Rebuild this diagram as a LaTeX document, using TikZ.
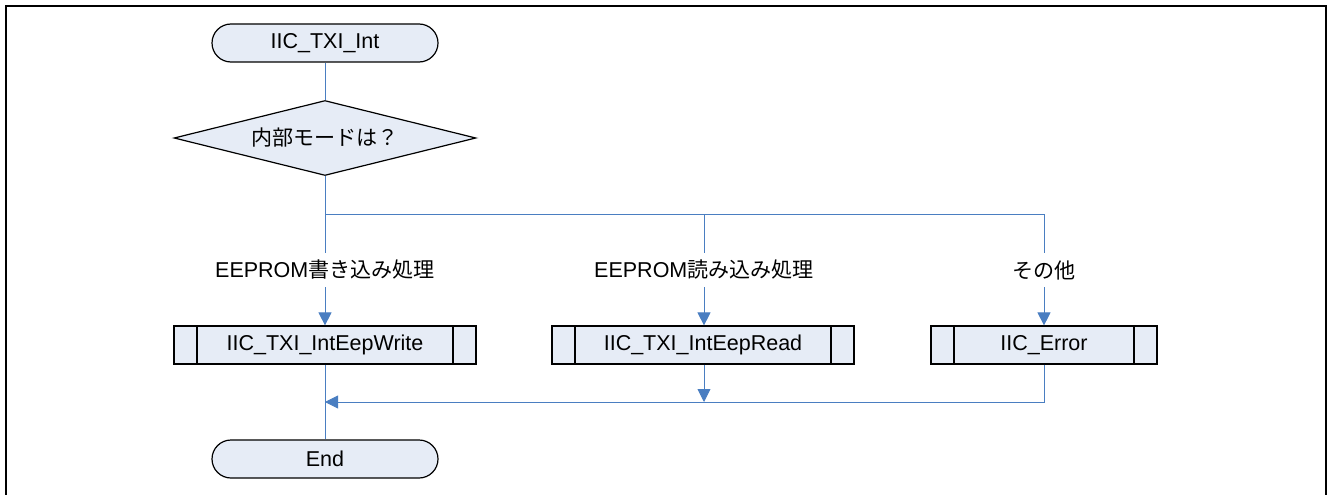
\documentclass[tikz,border=0pt]{standalone}
\usepackage{fontspec}
\setmainfont{Liberation Sans}
\newfontfamily\jp{Noto Sans CJK JP}[Scale=0.98]
\usetikzlibrary{shapes.geometric,arrows.meta}
\definecolor{boxfill}{RGB}{230,236,246}
\definecolor{linkblue}{RGB}{74,126,193}
\tikzset{
  x=1pt, y=-1pt,
  every node/.style={font=\fontsize{21.5}{24}\selectfont, text=black},
  term/.style={draw=black, line width=1.2pt, fill=boxfill, rectangle, rounded corners=19pt,
    minimum width=226pt, minimum height=38pt, inner sep=0pt},
  decide/.style={draw=black, line width=1.2pt, fill=boxfill, diamond, aspect=4.03,
    minimum width=302pt, minimum height=75pt, inner sep=0pt},
  proc/.style={draw=black, line width=1.2pt, fill=boxfill, rectangle,
    minimum height=38pt, inner sep=0pt,
    path picture={
      \draw[line width=1.2pt] ([xshift=23pt]path picture bounding box.north west) -- ([xshift=23pt]path picture bounding box.south west);
      \draw[line width=1.2pt] ([xshift=-23pt]path picture bounding box.north east) -- ([xshift=-23pt]path picture bounding box.south east);
    }},
  lbl/.style={fill=white, inner xsep=2pt, inner ysep=0pt, minimum height=34pt},
  conn/.style={draw=linkblue, line width=0.9pt},
  arr/.style={conn, -{Triangle[width=13pt,length=13pt]}},
}
\begin{document}
\begin{tikzpicture}
\useasboundingbox (0,0) rectangle (1328,495);
\draw[line width=2pt] (5.5,495) -- (5.5,6.5) -- (1325.5,6.5) -- (1325.5,495);

\node[term] (start) at (325,43) {IIC\_TXI\_Int};
\node[decide] (dia) at (325,138) {{\jp 内部モードは？}};
\coordinate (split) at (325,214);

\node[lbl] (lw) at (325,270) {EEPROM{\jp 書き込み処理}};
\node[lbl] (lr) at (704,270) {EEPROM{\jp 読み込み処理}};
\node[lbl] (le) at (1044,270) {{\jp その他}};

\node[proc, minimum width=302pt] (write) at (325,345) {IIC\_TXI\_IntEepWrite};
\node[proc, minimum width=302pt] (read) at (703,345) {IIC\_TXI\_IntEepRead};
\node[proc, minimum width=226pt] (err) at (1044,345) {IIC\_Error};

\coordinate (m) at (325,402);
\coordinate (mr) at (704,402);

\node[term] (end) at (325,459) {End};

\draw[conn] (start.south) -- (dia.north);
\draw[conn] (dia.south) -- (lw.north);
\draw[conn] (split) -| (lr.north);
\draw[conn] (split) -| (le.north);
\draw[arr] (lw.south) -- (write.north);
\draw[arr] (lr.south) -- (read.north -| lr.south);
\draw[arr] (le.south) -- (err.north -| le.south);
\draw[conn] (write.south) -- (end.north);
\draw[arr] (read.south -| mr) -- (mr);
\draw[arr] (err.south) |- (m);
\end{tikzpicture}
\end{document}
